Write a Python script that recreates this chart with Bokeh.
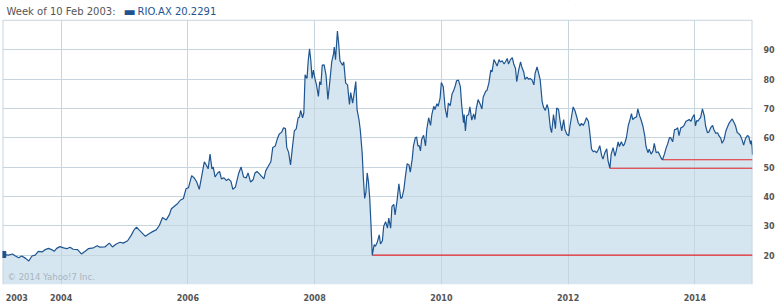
from bokeh.plotting import figure
from bokeh.models import Range1d, FixedTicker, Label
from bokeh.embed import file_html
from bokeh.resources import INLINE

# ---- data (weekly close) ----
years = [2003.08, 2003.17, 2003.23, 2003.28, 2003.33, 2003.38, 2003.44, 2003.49, 2003.54, 2003.59,
         2003.64, 2003.70, 2003.75, 2003.80, 2003.85, 2003.89, 2003.93, 2003.98, 2004.04, 2004.09,
         2004.14, 2004.19, 2004.26, 2004.32, 2004.38, 2004.43, 2004.51, 2004.57, 2004.61, 2004.69,
         2004.76, 2004.81, 2004.87, 2004.93, 2004.98, 2005.05, 2005.11, 2005.15, 2005.19, 2005.23,
         2005.28, 2005.33, 2005.38, 2005.45, 2005.50, 2005.55, 2005.60, 2005.66, 2005.71, 2005.74,
         2005.84, 2005.88, 2005.93, 2005.97, 2006.01, 2006.06, 2006.10, 2006.14, 2006.18, 2006.22,
         2006.26, 2006.29, 2006.32, 2006.35, 2006.38, 2006.40, 2006.43, 2006.47, 2006.50, 2006.53,
         2006.57, 2006.61, 2006.64, 2006.68, 2006.71, 2006.75, 2006.80, 2006.84, 2006.88, 2006.92,
         2006.95, 2006.99, 2007.03, 2007.06, 2007.09, 2007.13, 2007.16, 2007.20, 2007.23, 2007.28,
         2007.31, 2007.34, 2007.38, 2007.41, 2007.44, 2007.48, 2007.51, 2007.54, 2007.56, 2007.59,
         2007.62, 2007.65, 2007.68, 2007.71, 2007.74, 2007.76, 2007.78, 2007.81, 2007.83, 2007.85,
         2007.88, 2007.90, 2007.92, 2007.94, 2007.96, 2007.98, 2008.01, 2008.03, 2008.06, 2008.08,
         2008.10, 2008.12, 2008.15, 2008.18, 2008.21, 2008.24, 2008.27, 2008.30, 2008.31, 2008.33,
         2008.36, 2008.38, 2008.40, 2008.44, 2008.46, 2008.49, 2008.52, 2008.55, 2008.57, 2008.60,
         2008.62, 2008.65, 2008.67, 2008.70, 2008.72, 2008.75, 2008.77, 2008.79, 2008.81, 2008.83,
         2008.85, 2008.87, 2008.89, 2008.91, 2008.94, 2008.96, 2008.99, 2009.02, 2009.04, 2009.07,
         2009.09, 2009.12, 2009.15, 2009.17, 2009.20, 2009.22, 2009.25, 2009.27, 2009.30, 2009.33,
         2009.36, 2009.38, 2009.41, 2009.43, 2009.46, 2009.49, 2009.51, 2009.54, 2009.56, 2009.59,
         2009.61, 2009.63, 2009.65, 2009.67, 2009.69, 2009.72, 2009.75, 2009.77, 2009.80, 2009.83,
         2009.85, 2009.88, 2009.90, 2009.93, 2009.95, 2009.98, 2010.00, 2010.03, 2010.06, 2010.09,
         2010.11, 2010.14, 2010.17, 2010.19, 2010.22, 2010.24, 2010.27, 2010.30, 2010.32, 2010.35,
         2010.36, 2010.38, 2010.40, 2010.43, 2010.45, 2010.48, 2010.51, 2010.53, 2010.55, 2010.58,
         2010.61, 2010.64, 2010.66, 2010.70, 2010.72, 2010.75, 2010.78, 2010.80, 2010.83, 2010.85,
         2010.88, 2010.91, 2010.93, 2010.96, 2010.99, 2011.01, 2011.04, 2011.06, 2011.09, 2011.12,
         2011.14, 2011.17, 2011.19, 2011.22, 2011.25, 2011.27, 2011.30, 2011.32, 2011.35, 2011.38,
         2011.40, 2011.43, 2011.46, 2011.48, 2011.51, 2011.53, 2011.56, 2011.59, 2011.61, 2011.64,
         2011.67, 2011.69, 2011.72, 2011.74, 2011.77, 2011.80, 2011.82, 2011.85, 2011.87, 2011.90,
         2011.93, 2011.95, 2011.98, 2012.01, 2012.03, 2012.06, 2012.08, 2012.11, 2012.14, 2012.16,
         2012.19, 2012.21, 2012.24, 2012.27, 2012.29, 2012.32, 2012.34, 2012.37, 2012.40, 2012.42,
         2012.45, 2012.48, 2012.50, 2012.53, 2012.55, 2012.58, 2012.61, 2012.63, 2012.66, 2012.68,
         2012.71, 2012.74, 2012.76, 2012.79, 2012.81, 2012.84, 2012.87, 2012.89, 2012.92, 2012.95,
         2012.97, 2013.00, 2013.02, 2013.05, 2013.08, 2013.10, 2013.13, 2013.15, 2013.18, 2013.21,
         2013.23, 2013.26, 2013.28, 2013.31, 2013.34, 2013.36, 2013.39, 2013.42, 2013.44, 2013.47,
         2013.49, 2013.52, 2013.55, 2013.57, 2013.60, 2013.62, 2013.65, 2013.68, 2013.70, 2013.73,
         2013.75, 2013.78, 2013.81, 2013.83, 2013.86, 2013.89, 2013.91, 2013.94, 2013.96, 2013.99,
         2014.01, 2014.03, 2014.05, 2014.07, 2014.09, 2014.12, 2014.15, 2014.17, 2014.20, 2014.22,
         2014.25, 2014.28, 2014.30, 2014.33, 2014.36, 2014.38, 2014.41, 2014.43, 2014.46, 2014.49,
         2014.51, 2014.54, 2014.56, 2014.59, 2014.62, 2014.64, 2014.67, 2014.69, 2014.72, 2014.75,
         2014.77, 2014.80, 2014.83, 2014.85, 2014.88, 2014.89, 2014.905, 2014.91]

prices = [20.23, 20.0, 20.4, 19.7, 19.1, 19.7, 18.9, 18.0, 19.7, 20.0,
          21.3, 21.1, 21.9, 22.3, 21.9, 21.3, 22.3, 22.9, 22.5, 22.2,
          22.7, 22.0, 21.9, 20.4, 21.3, 22.2, 22.5, 23.2, 22.7, 22.8,
          24.1, 22.8, 23.8, 24.4, 24.1, 24.9, 26.9, 28.6, 29.5, 28.6,
          27.5, 26.4, 27.2, 28.1, 28.6, 30.1, 32.8, 32.0, 33.9, 35.8,
          37.6, 38.7, 39.3, 42.6, 43.0, 47.1, 46.3, 44.9, 42.4, 47.1,
          51.8, 50.7, 49.4, 54.4, 49.4, 50.0, 46.6, 48.0, 48.5, 46.0,
          46.3, 45.4, 46.0, 45.1, 42.4, 43.2, 47.7, 50.0, 46.6, 46.3,
          48.0, 44.9, 45.7, 48.0, 48.5, 47.7, 46.9, 46.0, 48.8, 50.7,
          51.8, 56.7, 57.2, 59.5, 61.2, 61.9, 63.4, 63.1, 56.7, 55.0,
          50.7, 56.7, 62.3, 63.0, 66.8, 67.0, 69.3, 66.8, 68.5, 81.4,
          80.2, 86.4, 90.3, 86.4, 80.2, 83.0, 79.7, 78.0, 74.1, 79.1,
          78.0, 84.7, 84.8, 81.4, 73.0, 79.1, 85.8, 88.7, 90.9, 86.6,
          96.3, 92.0, 86.2, 84.7, 85.8, 78.6, 78.0, 71.3, 75.4, 71.8,
          74.6, 79.1, 69.6, 66.2, 62.8, 55.0, 46.0, 39.3, 41.5, 48.0,
          44.9, 39.3, 30.3, 20.0, 23.6, 23.0, 24.5, 26.9, 23.8, 24.9,
          29.8, 31.4, 29.2, 32.6, 29.2, 36.5, 37.3, 33.7, 38.4, 44.3,
          39.3, 39.6, 42.6, 46.3, 51.1, 50.7, 48.3, 52.7, 57.2, 60.0,
          60.2, 57.2, 57.3, 55.5, 59.5, 60.8, 57.2, 62.8, 66.8, 64.2,
          67.9, 70.7, 69.6, 71.6, 70.7, 73.5, 78.8, 77.4, 70.1, 66.8,
          71.8, 70.9, 75.0, 75.8, 77.7, 79.4, 79.6, 77.4, 71.3, 65.1,
          67.9, 62.3, 67.4, 67.9, 70.5, 66.0, 68.1, 66.2, 69.8, 73.0,
          71.6, 69.8, 73.8, 75.8, 76.1, 78.6, 83.0, 82.4, 86.6, 85.8,
          84.4, 86.6, 85.8, 86.2, 85.1, 85.8, 87.0, 85.1, 86.6, 87.3,
          85.3, 83.6, 79.1, 83.0, 85.8, 84.1, 82.4, 79.9, 80.6, 79.9,
          80.2, 79.7, 78.0, 81.9, 84.1, 82.4, 79.7, 72.4, 70.5, 69.3,
          71.3, 69.6, 63.4, 61.7, 67.9, 63.1, 70.1, 69.6, 66.2, 62.3,
          66.2, 62.8, 61.2, 60.7, 64.0, 67.9, 70.5, 69.1, 66.8, 65.1,
          64.0, 64.9, 64.2, 65.6, 66.8, 65.6, 62.3, 56.1, 55.2, 55.5,
          54.9, 56.1, 57.3, 53.9, 52.7, 54.9, 56.2, 52.2, 49.6, 54.4,
          56.6, 53.7, 55.5, 58.6, 57.0, 58.6, 57.2, 57.8, 60.0, 64.2,
          65.6, 68.2, 66.2, 66.8, 67.1, 69.8, 67.4, 66.2, 64.0, 60.6,
          57.0, 54.9, 56.1, 54.4, 55.5, 58.1, 54.9, 55.2, 54.4, 53.0,
          52.5, 54.4, 56.7, 57.8, 60.0, 60.0, 58.6, 62.8, 62.8, 63.4,
          60.7, 63.4, 63.7, 64.2, 65.6, 65.9, 66.2, 65.6, 66.8, 67.9,
          64.0, 65.9, 65.6, 66.4, 66.8, 69.8, 67.4, 64.0, 61.7, 61.9,
          63.4, 64.2, 62.8, 61.5, 61.7, 60.7, 59.8, 58.1, 59.3, 62.3,
          63.4, 64.9, 65.6, 66.4, 65.1, 64.2, 61.7, 61.5, 60.7, 59.0,
          57.5, 59.8, 60.7, 60.5, 57.8, 59.0, 56.7, 54.2]

support_from = [2008.91, 2012.66, 2013.49]
support_level = [20.0, 49.6, 52.5]

x_tick_pos = [2003.30, 2004, 2006, 2008, 2010, 2012, 2014]
x_tick_labels = ["2003", "2004", "2006", "2008", "2010", "2012", "2014"]
grid_years = [2004, 2006, 2008, 2010, 2012, 2014]
y_ticks = [20, 30, 40, 50, 60, 70, 80, 90]

X_START, X_END = 2003.075, 2014.91
Y_MIN, Y_MAX = 10, 100
HEADER_PX = 20
PLOT_PX = 267
Y_VIEW_MAX = Y_MAX + (Y_MAX - Y_MIN) * HEADER_PX / PLOT_PX   # header strip above the chart

LINE = "#1e5590"
FILL = "#d6e6f1"
GRID = "#c7d5df"
RED = "#e3262b"
TXT = "#555555"

p = figure(width=777, height=303, output_backend="svg", toolbar_location=None,
           x_range=Range1d(X_START, X_END), y_range=Range1d(Y_MIN, Y_VIEW_MAX),
           y_axis_location="right",
           min_border_left=2, min_border_right=20, min_border_top=0, min_border_bottom=16,
           background_fill_color="white", border_fill_color="white",
           outline_line_color=None)

# area (under grid) + support lines + price line
p.varea(x=years, y1=Y_MIN, y2=prices, fill_color=FILL, level="image")
# white header strip covering grid lines
p.quad(left=X_START, right=X_END, bottom=Y_MAX, top=Y_VIEW_MAX,
       fill_color="white", line_color=None)
# chart border (top, left, right)
p.segment(x0=[X_START, X_START, X_END], y0=[Y_MAX, Y_MIN, Y_MIN],
          x1=[X_END, X_START, X_END], y1=[Y_MAX, Y_MAX, Y_MAX],
          line_color=GRID, line_width=[1, 2, 2])
p.segment(x0=support_from, y0=support_level, x1=[X_END] * len(support_from), y1=support_level,
          line_color=RED, line_width=1.2)
p.line(years, prices, line_color=LINE, line_width=1.2)
p.scatter([years[0]], [prices[0]], marker="square", size=6, color="#1f4f8a")

# grids
p.xgrid.ticker = FixedTicker(ticks=grid_years)
p.ygrid.ticker = FixedTicker(ticks=y_ticks)
for g in (p.xgrid, p.ygrid):
    g.grid_line_color = GRID
    g.grid_line_width = 1

# axes
p.xaxis.ticker = FixedTicker(ticks=x_tick_pos)
p.xaxis.major_label_overrides = {k: v for k, v in zip(x_tick_pos, x_tick_labels)}
p.yaxis.ticker = FixedTicker(ticks=y_ticks)
for ax in (p.xaxis, p.yaxis):
    ax.axis_line_color = None
    ax.major_tick_line_color = None
    ax.minor_tick_line_color = None
    ax.major_label_text_font = "DejaVu Sans"
    ax.major_label_text_font_style = "bold"
    ax.major_label_text_font_size = "8px"
    ax.major_label_text_color = TXT
p.xaxis.major_label_standoff = 3
p.yaxis.major_label_standoff = 5

# header
p.add_layout(Label(x=4, y=273, x_units="screen", y_units="screen", text="Week of 10 Feb 2003:",
                   text_font="DejaVu Sans", text_font_size="10px", text_color=TXT,
                   text_baseline="alphabetic"))
p.add_layout(Label(x=121, y=273, x_units="screen", y_units="screen", text="\u25ac",
                   text_font="DejaVu Sans", text_font_size="13px", text_color=LINE,
                   text_baseline="alphabetic"))
p.add_layout(Label(x=135, y=273, x_units="screen", y_units="screen", text="RIO.AX 20.2291",
                   text_font="DejaVu Sans", text_font_size="10px", text_color=LINE,
                   text_baseline="alphabetic"))
p.add_layout(Label(x=5, y=8, x_units="screen", y_units="screen", text="\u00a9 2014 Yahoo!7 Inc.",
                   text_font="DejaVu Sans", text_font_size="8.5px", text_color="#a9b4bd",
                   text_baseline="alphabetic"))

open("out.html", "w").write(file_html(p, INLINE))
